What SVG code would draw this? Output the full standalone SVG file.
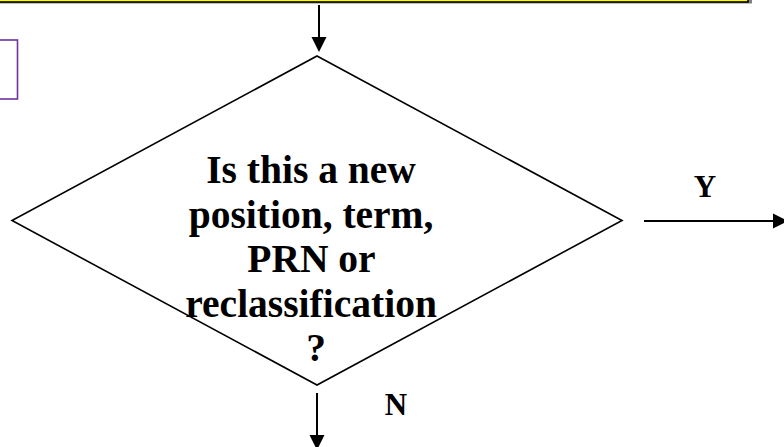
<svg xmlns="http://www.w3.org/2000/svg" width="784" height="447" viewBox="0 0 784 447">
  <style>
    .lbl { font-family: "Liberation Serif", "Times New Roman", serif; font-weight: bold; fill: #000; text-anchor: middle; }
    .conn { stroke: #000; stroke-width: 2; fill: none; }
    .head { fill: #000; stroke: none; }
  </style>
  <rect width="784" height="447" fill="#fff"/>
  <g id="top-box">
    <rect x="-10" y="-30" width="762" height="33.5" fill="#808080"/>
    <rect x="-10" y="-30" width="758" height="32" fill="#ffff00" stroke="#000" stroke-width="1.6"/>
  </g>
  <g id="side-box">
    <rect x="-10" y="40" width="27.5" height="59" fill="#fff" stroke="#7030a0" stroke-width="1.6"/>
  </g>
  <g id="decision">
    <polygon points="317,56 622,220.5 317,385 12,220.5" fill="#fff" stroke="#000" stroke-width="1.6"/>
    <text class="lbl" font-size="39.5">
      <tspan x="316" y="183">Is this a new</tspan>
      <tspan x="316" y="227.5">position, term,</tspan>
      <tspan x="316" y="272">PRN or</tspan>
      <tspan x="316" y="316.5">reclassification</tspan>
      <tspan x="316" y="361">?</tspan>
    </text>
  </g>
  <g id="connectors">
    <line class="conn" x1="319" y1="5" x2="319" y2="38"/>
    <polygon class="head" points="311.5,37 326.5,37 319,52"/>
    <line class="conn" x1="644" y1="221" x2="775" y2="221"/>
    <polygon class="head" points="773,213.5 773,228.5 788,221"/>
    <line class="conn" x1="317" y1="393" x2="317" y2="436"/>
    <polygon class="head" points="309.5,435 324.5,435 317,450"/>
  </g>
  <g id="labels">
    <text class="lbl" font-size="31" x="705" y="197">Y</text>
    <text class="lbl" font-size="31" x="396" y="415">N</text>
  </g>
</svg>
